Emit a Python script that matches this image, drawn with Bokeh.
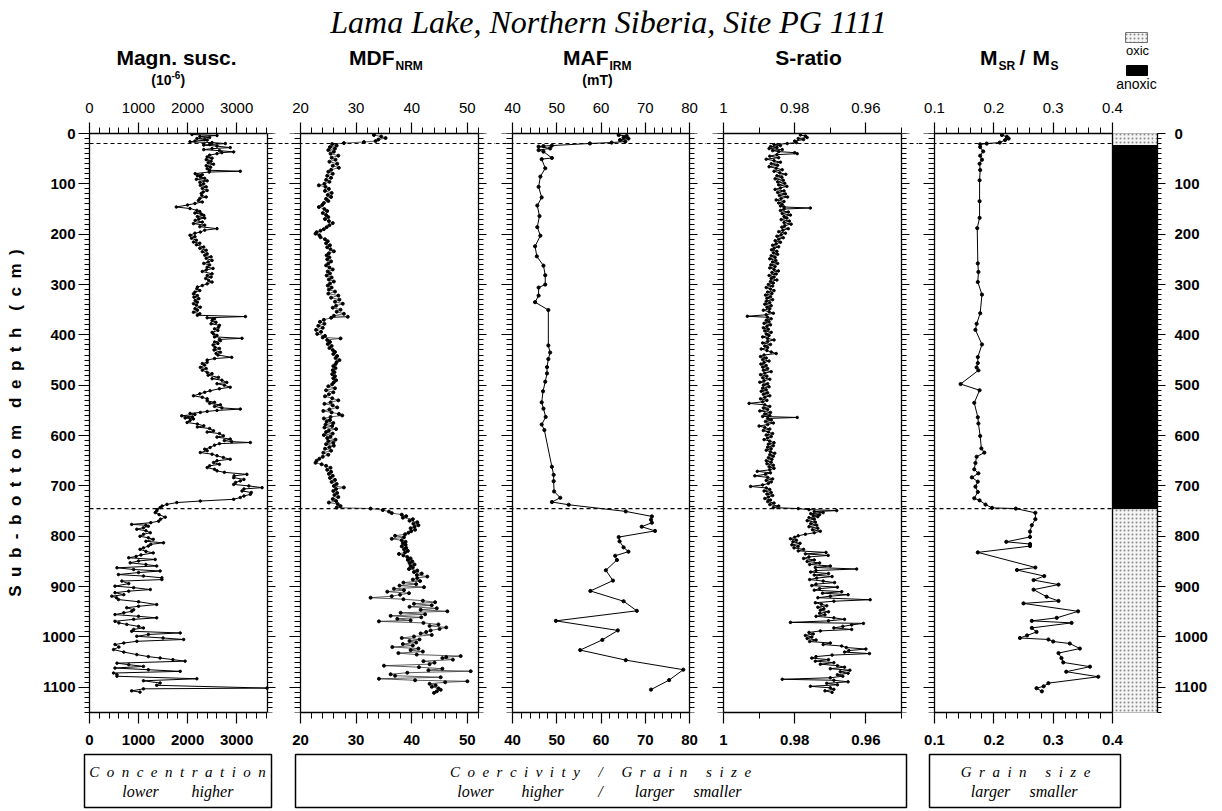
from bokeh.plotting import figure
from bokeh.models import Range1d, LinearAxis, FixedTicker, Span, NumeralTickFormatter
from bokeh.layouts import column, row
from bokeh.embed import file_html
from bokeh.resources import INLINE
from bokeh.core.properties import value

# ---------------- data ----------------
title_text = "Lama Lake, Northern Siberia, Site PG 1111"
depth_ticks = list(range(0, 1101, 100))
depth_minor = list(range(0, 1151, 10))
boundary_depths = [20, 745]
oxic_top = [0, 745]
oxic_bottom = [24, 1150]
anoxic_top = [24]
anoxic_bottom = [745]

susc_ticks = [0, 1000, 2000, 3000]
mdf_ticks = [20, 30, 40, 50]
maf_ticks = [40, 50, 60, 70, 80]
sratio_ticks = [1, 0.98, 0.96]
sratio_minor = [0.99, 0.97, 0.95]
msr_ticks = [0.1, 0.2, 0.3, 0.4]

# (depth cm, magnetic susceptibility 1e-6)
susc_points = [
    (2, 2090), (4, 2600), (6, 2250), (8, 2450), (10, 2190), (12, 2350), (13, 2400), (15, 2150), (16.6, 2050),
    (18, 2500), (20, 2770), (22, 2450), (23, 2330), (25, 2600), (28, 2870), (30, 2500), (32, 2330), (34, 2650),
    (36.5, 2940), (38, 2700), (40, 2600), (43, 2450), (46.5, 2400), (49, 2500), (52, 2380), (55, 2480), (58, 2420),
    (61, 2530), (64, 2380), (67, 2470), (70, 2400), (73, 2450), (75, 3075), (76.5, 2440), (79.7, 2155), (82, 2300),
    (84, 2200), (86, 2260), (89, 2350), (91, 2180), (94, 2400), (97, 2250), (100, 2330), (103, 2260), (106, 2380),
    (109, 2300), (113, 2400), (116, 2320), (119, 2280), (123, 2290), (126, 2380), (129, 2250), (133, 2220),
    (136, 2300), (139, 2150), (142, 2000), (146, 1770), (149, 2050), (152.7, 2190), (155, 2250), (158, 2150),
    (160, 2280), (162.6, 2330), (165, 2200), (168, 2350), (170, 2230), (172.6, 2155), (176, 2300), (179, 2120),
    (182, 2350), (185, 2250), (189, 2600), (192, 2350), (195.8, 2260), (198, 2150), (202, 2050), (205, 2150),
    (208, 2080), (212, 2180), (215.7, 2120), (218, 2250), (221, 2180), (225.6, 2330), (228, 2250), (232, 2380),
    (235, 2300), (239, 2400), (242, 2350), (245, 2480), (248, 2380), (252, 2500), (255, 2420), (258, 2330),
    (261, 2450), (265.5, 2400), (268, 2520), (271, 2380), (274, 2300), (278.7, 2500), (282, 2400), (285, 2480),
    (288, 2370), (292, 2430), (295, 2500), (298.6, 2400), (302, 2300), (305, 2200), (308.6, 2190), (312, 2250),
    (315, 2150), (318.5, 2120), (322, 2200), (325, 2130), (328, 2230), (331.8, 2155), (335, 2200), (338, 2120),
    (341, 2180), (345, 2260), (348, 2150), (351, 2200), (355, 2120), (358, 2250), (361, 2200), (363.6, 3180),
    (366, 2400), (368, 2550), (371.6, 2500), (375, 2580), (378, 2480), (381, 2650), (385, 2630), (388, 2550),
    (391, 2620), (395, 2500), (398, 2530), (401, 2600), (404, 2550), (406.8, 3110), (409, 2650), (411.4, 2670),
    (414, 2550), (417, 2620), (420, 2520), (424.7, 2560), (427, 2650), (430, 2540), (434.6, 2670), (437, 2580),
    (440, 2620), (444.6, 2900), (447, 2550), (450, 2400), (454.5, 2400), (457, 2300), (460, 2350), (464.5, 2260),
    (467, 2380), (470, 2300), (474.5, 2400), (477, 2500), (480, 2420), (484.4, 2630), (487, 2500), (490, 2700),
    (494.4, 2800), (497, 2600), (500, 2750), (504, 2870), (507, 2650), (511, 2460), (514, 2350), (517, 2250),
    (521, 2120), (524, 2300), (527, 2400), (531, 2400), (534, 2550), (536, 2450), (539, 2670), (542, 2550),
    (545, 2700), (547.4, 3075), (550, 2600), (552, 2400), (554, 2260), (556, 2050), (558, 2150), (560.7, 1880),
    (563, 2100), (565, 1950), (567, 2120), (570, 2050), (574, 1990), (577, 2200), (580.6, 2330), (583, 2200),
    (586, 2450), (590.5, 2530), (593, 2400), (596, 2650), (600.5, 2730), (603, 2600), (607, 2870), (610, 2750),
    (612, 2900), (613.8, 3280), (616, 2650), (619, 2550), (623.7, 2460), (627, 2350), (630, 2400), (633.7, 2260),
    (637, 2500), (640, 2600), (643.6, 2730), (647, 2870), (650, 2600), (653.6, 2530), (657, 2650), (660, 2450),
    (663.6, 2400), (667, 2550), (670, 2600), (673, 2750), (677, 3210), (680, 2950), (683.5, 2940), (687, 3150),
    (690, 3075), (693, 2980), (697, 2940), (700, 3250), (703.4, 3520), (706, 3150), (710, 3110), (713, 3300),
    (716.7, 3280), (720, 3150), (723, 3075), (726.6, 2940), (730, 2260), (733, 1780), (736.6, 1580), (740, 1480),
    (743, 1440), (747, 1380), (750, 1370), (753, 1340), (757, 1420), (762, 1545), (766, 1450), (770, 1410),
    (773, 1250), (776.4, 860), (778, 1150), (780, 1200), (783, 1100), (786, 965), (789, 1150), (793, 1240),
    (796, 1100), (800, 1030), (803, 1200), (806, 1300), (810, 1150), (813, 1510), (816, 1250), (819.5, 1200),
    (823, 1100), (826, 1030), (830, 1150), (833, 1300), (837, 1050), (840, 950), (842.7, 800), (846, 1340),
    (849, 1000), (852.7, 830), (856, 1150), (859, 1370), (862.6, 560), (866, 900), (869, 1440), (872, 1000),
    (876, 590), (879, 1100), (882.5, 1476), (886, 1476), (889, 660), (894, 800), (899, 520), (902, 900),
    (905.8, 1240), (909, 800), (912, 520), (916, 700), (919, 455), (922, 550), (925.7, 590), (930, 1000),
    (935.6, 1370), (939, 1000), (942, 760), (946, 900), (949, 860), (952, 700), (955.5, 520), (959, 1000),
    (962, 1370), (965, 900), (968.8, 520), (972, 600), (975, 760), (979, 1000), (982, 1100), (985, 900),
    (988.7, 860), (992, 1850), (995, 1200), (998.6, 965), (1002, 1500), (1005, 1920), (1008.6, 965), (1012, 700),
    (1015, 520), (1020, 600), (1025, 490), (1030, 700), (1035, 965), (1039, 1200), (1041.8, 1440), (1045, 1700),
    (1048, 1950), (1052, 560), (1055, 800), (1058.4, 1100), (1061.7, 520), (1065, 1200), (1068.3, 1850),
    (1071.6, 490), (1075, 560), (1078, 560), (1083, 2190), (1087, 1100), (1091.5, 1440), (1096, 1370),
    (1101.5, 3620), (1103, 1100), (1107, 860), (1109.5, 1030),
]

# (depth cm, MDF of NRM, mT)
mdf_points = [
    (3, 33.2), (6, 34.5), (9, 35.3), (12, 34.0), (15, 33.5), (17, 31.4), (19, 27.8), (21, 25.7), (24, 26.5),
    (27, 25.3), (30, 26.2), (33, 25.0), (36, 26.0), (40, 25.4), (44, 26.8), (48, 25.6), (52, 26.3), (56, 25.2),
    (60, 26.6), (64, 25.8), (68, 26.9), (72, 25.5), (76, 25.0), (80, 25.8), (84, 24.8), (88, 25.5), (92, 24.6),
    (96, 25.2), (100, 24.3), (103, 23.3), (106, 24.5), (110, 25.1), (114, 24.4), (118, 25.6), (122, 24.9),
    (126, 25.5), (130, 24.6), (134, 25.0), (138, 24.2), (142, 23.9), (146, 23.3), (150, 24.3), (154, 24.8),
    (158, 24.0), (162, 24.6), (166, 25.0), (170, 24.4), (174, 25.1), (178, 25.8), (182, 25.2), (186, 24.7),
    (190, 24.2), (193, 23.6), (196, 22.9), (199, 22.7), (202, 23.4), (206, 23.6), (210, 24.4), (214, 24.9),
    (218, 24.6), (222, 25.3), (226, 24.8), (230, 25.4), (234, 26.0), (238, 25.1), (242, 24.7), (246, 25.2),
    (250, 24.8), (254, 25.5), (258, 25.0), (262, 24.6), (266, 25.2), (270, 25.8), (274, 24.9), (278, 25.3),
    (282, 24.7), (286, 25.6), (290, 25.1), (294, 26.0), (298, 25.3), (302, 24.9), (306, 25.6), (310, 25.1),
    (314, 26.2), (318, 25.0), (322, 26.8), (326, 25.5), (330, 27.0), (334, 26.2), (338, 27.6), (342, 26.4),
    (346, 25.8), (350, 27.2), (354, 26.5), (358, 27.8), (362, 26.0), (364, 28.5), (366, 25.5), (370, 24.2),
    (374, 23.5), (378, 24.3), (382, 23.2), (386, 24.0), (390, 22.8), (394, 23.7), (398, 23.0), (402, 24.4),
    (405, 24.0), (407, 27.2), (410, 24.8), (414, 25.3), (418, 24.9), (422, 25.6), (426, 25.2), (430, 25.8),
    (434, 26.2), (438, 25.9), (442, 26.6), (446, 26.3), (450, 27.0), (454, 26.5), (458, 26.3), (462, 25.9),
    (466, 26.3), (470, 25.8), (474, 26.1), (478, 25.7), (482, 26.2), (486, 25.9), (490, 26.4), (494, 26.0),
    (498, 25.7), (502, 25.0), (506, 26.2), (510, 24.6), (514, 25.9), (518, 25.1), (522, 24.4), (526, 25.7),
    (530, 26.8), (534, 25.4), (537, 24.3), (540, 25.8), (544, 26.6), (548, 25.2), (551, 24.1), (554, 25.6),
    (557, 26.9), (560, 27.5), (563, 25.4), (566, 24.2), (569, 25.3), (572, 24.7), (575, 25.9), (578, 24.5),
    (581, 25.7), (584, 24.3), (587, 26.4), (590, 25.1), (593, 24.6), (596, 25.8), (599, 24.2), (602, 25.4),
    (605, 24.8), (608, 26.3), (611, 25.0), (614, 25.9), (617, 24.6), (620, 26.0), (623, 25.2), (626, 24.4),
    (630, 25.5), (634, 24.1), (638, 25.0), (642, 24.0), (646, 23.4), (650, 22.9), (654, 22.7), (657, 23.8),
    (660, 24.6), (664, 25.4), (668, 24.8), (672, 25.5), (676, 25.1), (680, 25.8), (684, 25.3), (688, 26.2),
    (692, 25.6), (696, 26.5), (700, 26.0), (703, 27.8), (706, 26.4), (710, 25.9), (714, 26.6), (718, 26.1),
    (722, 26.8), (726, 25.8), (730, 26.4), (733, 25.1), (736, 26.7), (740, 27.2), (743, 26.5), (745, 32.6),
    (748, 34.8), (751, 35.9), (754, 36.4), (757, 38.2), (760, 39.0), (763, 38.4), (766, 40.2), (769, 39.6),
    (772, 41.0), (775, 40.3), (778, 41.2), (781, 40.5), (784, 39.8), (787, 40.6), (790, 39.9), (793, 39.4),
    (796, 38.8), (799, 37.0), (802, 38.6), (805, 36.4), (808, 38.2), (811, 38.9), (814, 38.4), (817, 38.9),
    (820, 38.2), (823, 39.0), (826, 38.6), (829, 39.3), (832, 38.8), (835, 37.7), (838, 38.5), (841, 39.2),
    (844, 39.8), (847, 39.3), (850, 40.1), (853, 39.6), (856, 40.5), (859, 39.8), (862, 40.2), (865, 39.5),
    (868, 41.0), (871, 40.4), (874, 41.8), (877, 40.9), (880, 42.8), (883, 41.0), (886, 40.2), (889, 41.5),
    (892, 38.5), (895, 40.8), (898, 37.8), (901, 42.2), (904, 36.8), (907, 38.6), (910, 35.6), (913, 39.5),
    (916, 37.9), (919, 36.4), (922, 32.6), (925, 38.5), (928, 42.0), (931, 44.2), (934, 40.4), (937, 43.6),
    (940, 39.6), (943, 44.5), (946, 41.6), (949, 46.4), (952, 38.0), (955, 42.4), (958, 36.2), (961, 41.7),
    (964, 37.4), (967, 39.8), (969, 34.1), (972, 42.1), (975, 44.8), (978, 43.2), (981, 46.2), (984, 45.0),
    (987, 43.4), (990, 42.6), (993, 41.6), (996, 43.6), (999, 40.4), (1002, 38.2), (1005, 41.4), (1008, 39.6),
    (1011, 40.8), (1014, 38.4), (1017, 40.2), (1020, 36.5), (1023, 41.2), (1026, 39.8), (1029, 42.0),
    (1032, 37.6), (1035, 40.9), (1038, 48.8), (1040, 46.2), (1042, 45.5), (1045, 47.4), (1048, 42.1),
    (1051, 44.1), (1054, 43.2), (1057, 35.0), (1060, 41.3), (1063, 45.5), (1066, 43.0), (1068, 50.6),
    (1071, 39.2), (1074, 36.2), (1077, 37.0), (1080, 45.2), (1083, 34.1), (1086, 40.6), (1088, 50.0),
    (1090, 46.0), (1093, 43.2), (1096, 44.3), (1099, 43.6), (1102, 44.8), (1105, 45.2), (1108, 44.5), (1111, 44.0),
]

# (depth cm, MAF of IRM, mT)
maf_points = [
    (3, 64.0), (5, 65.8), (8, 65.1), (10, 66.2), (13, 64.3), (16, 65.5), (18, 62.4), (19.8, 57.5), (24, 48.9),
    (25, 47.0), (26, 45.9), (29.6, 48.5), (33, 45.9), (36, 47.0), (48.6, 48.9), (51, 46.6), (69, 47.4),
    (85.6, 46.3), (106, 45.9), (127, 46.6), (143, 45.6), (164, 46.1), (186, 45.6), (203, 46.3), (224, 45.1),
    (244, 45.5), (262.5, 47.0), (281.5, 47.4), (300, 47.4), (306, 45.9), (322, 45.9), (335, 45.1), (350.6, 48.1),
    (421, 48.1), (435, 48.5), (448, 48.1), (464, 47.8), (476.5, 47.8), (493, 47.4), (512, 46.9), (534, 46.6),
    (546.5, 47.0), (563, 47.5), (578, 46.6), (589, 47.2), (662, 48.9), (678, 49.3), (690.5, 49.3), (711, 49.4),
    (723.5, 50.8), (732, 48.9), (737.4, 52.7), (750.6, 65.6), (760.5, 71.5), (767, 71.3), (773, 71.5),
    (781, 69.2), (789.3, 72.2), (801.6, 64.0), (810, 64.2), (822, 65.1), (830.5, 66.2), (838.7, 63.2),
    (847, 63.6), (867.5, 61.1), (888, 62.7), (908.6, 57.6), (929, 65.1), (948, 68.1), (968, 49.8), (987, 63.8),
    (1005.8, 60.3), (1026, 55.3), (1046, 65.6), (1065, 78.6), (1085.6, 75.4), (1104.5, 71.3),
]

# (depth cm, S-ratio)
sratio_points = [
    (3, 0.9784), (5, 0.9770), (8, 0.9765), (10, 0.9790), (12, 0.9775), (15, 0.9800), (18, 0.9795), (20, 0.9821),
    (22, 0.9858), (24, 0.9840), (26, 0.9868), (28, 0.9850), (30, 0.9872), (32, 0.9835), (34, 0.9862),
    (36, 0.9845), (38, 0.9800), (40, 0.9793), (42, 0.9850), (45, 0.9870), (48, 0.9845), (51, 0.9880),
    (54, 0.9858), (57, 0.9840), (60, 0.9866), (63, 0.9848), (66, 0.9872), (69, 0.9852), (72, 0.9835),
    (75, 0.9858), (78, 0.9842), (81, 0.9825), (84, 0.9850), (87, 0.9836), (90, 0.9855), (93, 0.9832),
    (96, 0.9848), (99, 0.9828), (102, 0.9845), (105, 0.9822), (108, 0.9840), (111, 0.9855), (114, 0.9830),
    (117, 0.9848), (120, 0.9826), (123, 0.9843), (126, 0.9820), (129, 0.9838), (132, 0.9852), (135, 0.9830),
    (138, 0.9845), (141, 0.9835), (144, 0.9840), (146, 0.9830), (148, 0.9756), (150, 0.9830), (153, 0.9840),
    (156, 0.9818), (159, 0.9835), (162, 0.9812), (165, 0.9830), (168, 0.9822), (171, 0.9838), (174, 0.9815),
    (177, 0.9830), (180, 0.9810), (183, 0.9828), (186, 0.9836), (189, 0.9818), (192, 0.9833), (195, 0.9845),
    (198, 0.9826), (201, 0.9838), (204, 0.9850), (207, 0.9832), (210, 0.9845), (213, 0.9855), (216, 0.9840),
    (219, 0.9852), (222, 0.9862), (225, 0.9845), (228, 0.9858), (231, 0.9865), (234, 0.9850), (237, 0.9860),
    (240, 0.9848), (243, 0.9866), (246, 0.9855), (249, 0.9870), (252, 0.9853), (255, 0.9862), (258, 0.9848),
    (261, 0.9867), (264, 0.9855), (267, 0.9870), (270, 0.9858), (273, 0.9846), (276, 0.9864), (279, 0.9852),
    (282, 0.9872), (285, 0.9858), (288, 0.9866), (291, 0.9850), (294, 0.9868), (297, 0.9860), (300, 0.9874),
    (303, 0.9862), (306, 0.9880), (309, 0.9868), (312, 0.9858), (315, 0.9876), (318, 0.9864), (321, 0.9882),
    (324, 0.9868), (327, 0.9878), (330, 0.9862), (333, 0.9880), (336, 0.9870), (339, 0.9884), (342, 0.9866),
    (345, 0.9878), (348, 0.9870), (351, 0.9888), (354, 0.9872), (357, 0.9860), (360, 0.9880), (363, 0.9933),
    (365, 0.9876), (368, 0.9866), (371, 0.9880), (374, 0.9872), (377, 0.9886), (380, 0.9868), (383, 0.9878),
    (386, 0.9888), (389, 0.9874), (392, 0.9884), (395, 0.9866), (398, 0.9880), (401, 0.9872), (404, 0.9890),
    (407, 0.9876), (410, 0.9858), (413, 0.9876), (416, 0.9890), (419, 0.9868), (422, 0.9884), (425, 0.9876),
    (428, 0.9894), (431, 0.9878), (434, 0.9866), (437, 0.9852), (440, 0.9886), (443, 0.9896), (446, 0.9880),
    (449, 0.9890), (452, 0.9872), (455, 0.9886), (458, 0.9895), (461, 0.9880), (464, 0.9890), (467, 0.9876),
    (470, 0.9888), (473, 0.9866), (476, 0.9884), (479, 0.9896), (482, 0.9878), (485, 0.9890), (488, 0.9870),
    (491, 0.9886), (494, 0.9898), (497, 0.9876), (500, 0.9888), (503, 0.9872), (506, 0.9890), (509, 0.9880),
    (512, 0.9894), (515, 0.9876), (518, 0.9888), (521, 0.9870), (524, 0.9884), (527, 0.9896), (530, 0.9878),
    (533, 0.9890), (536, 0.9928), (539, 0.9884), (542, 0.9870), (545, 0.9888), (548, 0.9876), (551, 0.9898),
    (554, 0.9868), (557, 0.9884), (560, 0.9870), (562, 0.9890), (564, 0.9793), (566, 0.9876), (569, 0.9866),
    (572, 0.9882), (575, 0.9860), (578, 0.9876), (581, 0.9900), (584, 0.9884), (587, 0.9870), (590, 0.9888),
    (593, 0.9874), (596, 0.9862), (599, 0.9880), (602, 0.9866), (605, 0.9876), (608, 0.9886), (611, 0.9870),
    (614, 0.9858), (617, 0.9874), (620, 0.9860), (623, 0.9876), (626, 0.9866), (629, 0.9880), (632, 0.9868),
    (635, 0.9856), (638, 0.9870), (641, 0.9860), (644, 0.9874), (647, 0.9864), (650, 0.9880), (653, 0.9866),
    (656, 0.9878), (659, 0.9860), (662, 0.9872), (665, 0.9858), (668, 0.9870), (671, 0.9905), (674, 0.9868),
    (677, 0.9882), (680, 0.9912), (683, 0.9876), (686, 0.9862), (689, 0.9880), (692, 0.9866), (695, 0.9874),
    (698, 0.9890), (701, 0.9924), (704, 0.9880), (707, 0.9870), (710, 0.9886), (713, 0.9866), (716, 0.9878),
    (719, 0.9862), (722, 0.9874), (725, 0.9884), (728, 0.9868), (731, 0.9876), (734, 0.9858), (737, 0.9870),
    (740, 0.9845), (743, 0.9860), (745, 0.9790), (747, 0.9760), (749, 0.9682), (751, 0.9745), (753, 0.9720),
    (755, 0.9755), (757, 0.9730), (759, 0.9748), (761, 0.9735), (763, 0.9760), (766, 0.9745), (769, 0.9765),
    (772, 0.9742), (775, 0.9755), (778, 0.9738), (781, 0.9760), (784, 0.9735), (787, 0.9750), (790, 0.9728),
    (793, 0.9745), (796, 0.9770), (799, 0.9790), (802, 0.9800), (805, 0.9812), (808, 0.9795), (811, 0.9805),
    (814, 0.9785), (817, 0.9808), (820, 0.9790), (823, 0.9802), (826, 0.9775), (829, 0.9790), (832, 0.9712),
    (835, 0.9770), (838, 0.9706), (841, 0.9760), (844, 0.9775), (847, 0.9745), (850, 0.9765), (853, 0.9730),
    (856, 0.9758), (859, 0.9700), (862, 0.9742), (865, 0.9626), (868, 0.9740), (871, 0.9755), (874, 0.9705),
    (877, 0.9745), (880, 0.9695), (883, 0.9738), (886, 0.9758), (889, 0.9720), (892, 0.9688), (895, 0.9740),
    (898, 0.9752), (901, 0.9680), (904, 0.9730), (907, 0.9745), (910, 0.9668), (913, 0.9722), (916, 0.9650),
    (919, 0.9700), (922, 0.9735), (926, 0.9588), (929, 0.9690), (932, 0.9742), (935, 0.9725), (938, 0.9710),
    (941, 0.9735), (944, 0.9718), (947, 0.9728), (950, 0.9705), (953, 0.9730), (956, 0.9715), (959, 0.9740),
    (962, 0.9690), (965, 0.9660), (968, 0.9705), (971, 0.9812), (973, 0.9607), (976, 0.9640), (979, 0.9665),
    (982, 0.9690), (985, 0.9640), (988, 0.9728), (991, 0.9760), (994, 0.9748), (997, 0.9770), (1000, 0.9752),
    (1003, 0.9765), (1006, 0.9740), (1009, 0.9758), (1012, 0.9700), (1015, 0.9720), (1018, 0.9668),
    (1021, 0.9655), (1024, 0.9600), (1027, 0.9648), (1030, 0.9660), (1033, 0.9590), (1036, 0.9695),
    (1039, 0.9740), (1042, 0.9752), (1045, 0.9705), (1048, 0.9742), (1051, 0.9690), (1054, 0.9728),
    (1057, 0.9680), (1060, 0.9660), (1063, 0.9700), (1066, 0.9645), (1069, 0.9672), (1072, 0.9650),
    (1075, 0.9680), (1078, 0.9665), (1081, 0.9700), (1084, 0.9835), (1086, 0.9690), (1089, 0.9650),
    (1092, 0.9710), (1095, 0.9680), (1098, 0.9756), (1101, 0.9700), (1104, 0.9690), (1107, 0.9715), (1110, 0.9695),
]

# (depth cm, Msr/Ms)
msr_points = [
    (3, 0.2136), (6.6, 0.222), (10, 0.225), (13, 0.219), (18, 0.210), (20, 0.188), (21.5, 0.177), (27, 0.177),
    (35.5, 0.182), (44, 0.177), (52, 0.180), (60, 0.176), (72.6, 0.177), (93, 0.176), (134.5, 0.176),
    (167.5, 0.176), (188, 0.172), (258, 0.173), (275, 0.174), (295, 0.173), (320, 0.180), (357, 0.177),
    (378, 0.171), (390, 0.169), (419, 0.180), (444, 0.173), (456, 0.173), (464.6, 0.171), (470.4, 0.174),
    (497.6, 0.144), (510, 0.176), (535, 0.167), (563.6, 0.173), (576, 0.174), (600.8, 0.177), (625.5, 0.179),
    (633.8, 0.184), (642, 0.171), (654.4, 0.169), (667, 0.167), (675, 0.174), (683, 0.163), (691.5, 0.173),
    (701.4, 0.169), (712, 0.173), (724.5, 0.167), (728.7, 0.176), (737, 0.186), (743.5, 0.197), (745, 0.237),
    (753.4, 0.270), (766, 0.270), (778, 0.264), (790.6, 0.261), (801.3, 0.261), (811, 0.221), (815.4, 0.261),
    (819.5, 0.261), (832, 0.173), (862, 0.270), (867, 0.239), (879, 0.285), (887, 0.267), (896, 0.309),
    (906, 0.267), (920, 0.289), (928.4, 0.309), (933.3, 0.250), (949, 0.342), (962, 0.306), (968, 0.264),
    (972, 0.331), (982, 0.264), (990, 0.272), (997, 0.256), (1002, 0.244), (1005, 0.292), (1009, 0.300),
    (1013, 0.328), (1023, 0.345), (1032, 0.309), (1042, 0.314), (1050.5, 0.317), (1059, 0.362), (1069, 0.322),
    (1079, 0.376), (1091.7, 0.292), (1098, 0.284), (1101.7, 0.272), (1108, 0.281),
]

# ---------------- layout constants ----------------
SANS = "Liberation Sans"
SERIF = "Liberation Serif"
HEADER_H, FOOTER_H = 92, 59
TOP_H, FRAME_H, BOT_H = 41, 579, 40
PANEL_H = TOP_H + FRAME_H + BOT_H
DEPTH_MAX = 1150
EN = "\u2002"
BASE_SHIFT = 0.4   # measured offset of Bokeh's alphabetic baseline, in em


def spaced(s):
    return EN.join(s)


def ext_range(lo, hi, p0, p1, f0, f1):
    s = (hi - lo) / (p1 - p0)
    return Range1d(lo - (p0 - f0) * s, hi + (f1 - p1) * s)


def make_panel(width, xr, bl, br):
    p = figure(width=width, height=PANEL_H, x_range=xr, y_range=Range1d(DEPTH_MAX, 0),
               toolbar_location=None, output_backend="svg",
               x_axis_location=None, y_axis_location=None,
               min_border_left=bl, min_border_right=br, min_border_top=TOP_H, min_border_bottom=BOT_H)
    p.outline_line_color = None
    p.xgrid.grid_line_color = None
    p.ygrid.grid_line_color = None
    p.background_fill_color = "white"
    p.border_fill_color = "white"
    return p


def style_axis(ax, tick_out, minor_out, labels=True, size="15px", bold=False, standoff=5):
    ax.major_tick_out = tick_out
    ax.major_tick_in = 0
    ax.minor_tick_out = minor_out
    ax.minor_tick_in = 0
    ax.axis_line_color = "black"
    ax.axis_line_width = 1.3
    ax.major_tick_line_width = 1.2
    ax.minor_tick_line_width = 1
    ax.major_tick_line_color = "black"
    ax.minor_tick_line_color = "black"
    ax.major_label_text_font = SANS
    ax.major_label_text_font_size = size
    ax.major_label_text_font_style = "bold" if bold else "normal"
    ax.major_label_standoff = standoff
    ax.major_label_text_color = "black" if labels else None


def add_x_axes(p, lo, hi, major, minor, formatter=None):
    for loc in ("above", "below"):
        ax = LinearAxis(bounds=(min(lo, hi), max(lo, hi)),
                        ticker=FixedTicker(ticks=major, minor_ticks=minor))
        if formatter is not None:
            ax.formatter = formatter
        if loc == "above":
            style_axis(ax, 11, 6, bold=False, standoff=10)
        else:
            style_axis(ax, 11, 6, bold=True, standoff=11)
        p.add_layout(ax, loc)


def add_fixed_y(p, loc, side, tick_out, minor_out):
    ax = LinearAxis(ticker=FixedTicker(ticks=depth_ticks, minor_ticks=depth_minor), fixed_location=loc)
    style_axis(ax, tick_out, minor_out, labels=False)
    p.add_layout(ax, side)


def add_series(p, pts, size=3, lw=1.0, color="black"):
    d = [a for a, b in pts]
    v = [b for a, b in pts]
    p.line(v, d, line_color=color, line_width=lw)
    p.scatter(v, d, size=size, marker="circle", fill_color="black", line_color="black")


def add_dashes(p, x0=None, x1=None):
    for d in boundary_depths:
        if x0 is None:
            p.add_layout(Span(location=d, dimension="width", line_color="black", line_width=1.1, line_dash="4 3"))
        else:
            p.segment(x0=[x0], x1=[x1], y0=[d], y1=[d], line_color="black", line_width=1.1, line_dash="4 3")


def minor_range(lo, hi, step, nd):
    n = int(round((hi - lo) / step))
    return [round(lo + i * step, nd) for i in range(n + 1)]


# panel pixel frames and figure slices
P = [(89, 267), (300, 478), (512, 689), (723, 901), (934, 1112)]
E = [0, 284, 495, 706, 918, 1222]
BAR_R = 1157

# ---- panel 1: magnetic susceptibility ----
x1 = ext_range(0, 3630, P[0][0], P[0][1], P[0][0], E[1])
p1 = make_panel(E[1] - E[0], x1, P[0][0], 0)
add_dashes(p1)
add_series(p1, susc_points, size=2.5, lw=1.0)
add_x_axes(p1, 0, 3630, susc_ticks, minor_range(0, 3600, 200, 0))
yl = LinearAxis(ticker=FixedTicker(ticks=depth_ticks, minor_ticks=depth_minor))
style_axis(yl, 11, 5, labels=True, bold=True, standoff=3)
yl.axis_label = spaced("Sub-bottom") + EN + EN + spaced("depth") + EN + EN + spaced("(cm)")
yl.axis_label_text_font = SANS
yl.axis_label_text_font_style = "bold"
yl.axis_label_text_font_size = "17px"
yl.axis_label_text_color = "black"
yl.axis_label_standoff = 14
p1.add_layout(yl, "left")
add_fixed_y(p1, 3630, "right", 8, 5)

# ---- panel 2: MDF NRM ----
x2 = ext_range(20, 52, P[1][0], P[1][1], E[1], E[2])
p2 = make_panel(E[2] - E[1], x2, 0, 0)
add_dashes(p2)
add_series(p2, mdf_points, size=3.0, lw=0.8, color="#333333")
add_x_axes(p2, 20, 52, mdf_ticks, minor_range(20, 52, 2, 0))
add_fixed_y(p2, 20, "left", 11, 6)
add_fixed_y(p2, 52, "right", 8, 5)

# ---- panel 3: MAF IRM ----
x3 = ext_range(40, 80, P[2][0], P[2][1], E[2], E[3])
p3 = make_panel(E[3] - E[2], x3, 0, 0)
add_dashes(p3)
add_series(p3, maf_points, size=3.2, lw=1.0)
add_x_axes(p3, 40, 80, maf_ticks, minor_range(40, 80, 2, 0))
add_fixed_y(p3, 40, "left", 11, 6)
add_fixed_y(p3, 80, "right", 8, 5)

# ---- panel 4: S-ratio (reversed) ----
x4 = ext_range(1.0, 0.95, P[3][0], P[3][1], E[3], E[4])
p4 = make_panel(E[4] - E[3], x4, 0, 0)
add_dashes(p4)
add_series(p4, sratio_points, size=2.5, lw=1.0)
add_x_axes(p4, 1.0, 0.95, sratio_ticks, sratio_minor, formatter=NumeralTickFormatter(format="0.[00]"))
add_fixed_y(p4, 1.0, "left", 11, 6)
add_fixed_y(p4, 0.95, "right", 8, 5)

# ---- panel 5: Msr/Ms + oxic/anoxic bar ----
x5 = ext_range(0.1, 0.4, P[4][0], P[4][1], E[4], BAR_R)
p5 = make_panel(E[5] - E[4], x5, 0, E[5] - BAR_R)
add_dashes(p5, x5.start, 0.4)
add_series(p5, msr_points, size=3.2, lw=1.0)
add_x_axes(p5, 0.1, 0.4, msr_ticks, minor_range(0.1, 0.4, 0.02, 2))
add_fixed_y(p5, 0.1, "left", 11, 6)
p5.quad(left=[0.4] * len(oxic_top), right=[x5.end] * len(oxic_top), top=oxic_top, bottom=oxic_bottom,
        fill_color="#f4f4f4", hatch_pattern=".", hatch_color="#8a8a8a", hatch_scale=4, hatch_weight=0.8,
        line_color="#555555", line_width=0.8)
p5.quad(left=[0.4] * len(anoxic_top), right=[x5.end] * len(anoxic_top), top=anoxic_top, bottom=anoxic_bottom,
        fill_color="black", line_color="black")
yr = LinearAxis(ticker=FixedTicker(ticks=depth_ticks, minor_ticks=depth_minor))
style_axis(yr, 8, 4, labels=True, bold=True, standoff=9)
p5.add_layout(yr, "right")
add_fixed_y(p5, 0.4, "right", 0, 0)

# ---------------- header ----------------
hdr = figure(width=1222, height=HEADER_H, x_range=Range1d(0, 1222), y_range=Range1d(HEADER_H, 0),
             toolbar_location=None, output_backend="svg", x_axis_location=None, y_axis_location=None,
             min_border=0)
hdr.outline_line_color = None
hdr.xgrid.grid_line_color = None
hdr.ygrid.grid_line_color = None


def htext(x, y, t, size, align="center", style="bold", font=SANS):
    yy = y - BASE_SHIFT * size
    hdr.text(x=[x], y=[yy], text=[t], text_font=value(font), text_font_style=style, text_font_size=f"{size}px",
             text_align=align, text_baseline="alphabetic", text_color="black")


htext(608, 34, title_text, 32, style="italic", font=SERIF)
htext(176, 65, "Magn. susc.", 21)
htext(171, 85, "(10", 14, align="right")
htext(171, 78, "-6", 10, align="left")
htext(180, 85, ")", 14, align="left")
htext(394, 65, "MDF", 21, align="right")
htext(395, 70, "NRM", 12, align="left")
htext(608, 65, "MAF", 21, align="right")
htext(609, 70, "IRM", 12, align="left")
htext(597, 85, "(mT)", 14)
htext(808, 65, "S-ratio", 21)
htext(997, 65, "M", 21, align="right")
htext(998, 70, "SR", 12, align="left")
htext(1022, 65, "/", 21)
htext(1032, 65, "M", 21, align="left")
htext(1050, 70, "S", 12, align="left")
# oxic / anoxic key
hdr.quad(left=[1125], right=[1147], top=[32], bottom=[42], fill_color="#f4f4f4", hatch_pattern=".",
         hatch_color="#8a8a8a", hatch_scale=4, hatch_weight=0.8, line_color="#555555", line_width=0.8)
htext(1137, 55, "oxic", 13, style="normal")
hdr.quad(left=[1126], right=[1147], top=[65], bottom=[75], fill_color="black", line_color="black")
htext(1136, 89, "anoxic", 14, style="normal")

# ---------------- footer ----------------
ftr = figure(width=1222, height=FOOTER_H, x_range=Range1d(0, 1222), y_range=Range1d(811, 811 - FOOTER_H),
             toolbar_location=None, output_backend="svg", x_axis_location=None, y_axis_location=None,
             min_border=0)
ftr.outline_line_color = None
ftr.xgrid.grid_line_color = None
ftr.ygrid.grid_line_color = None
ftr.quad(left=[84, 295, 929], right=[271, 906, 1120], top=[754, 754, 754], bottom=[807, 807, 807],
         fill_color=None, line_color="black", line_width=1.5)


def ftext(x, y, t, size=15):
    ftr.text(x=[x], y=[y - BASE_SHIFT * size], text=[t], text_font=value(SERIF), text_font_style="italic",
             text_font_size=f"{size}px", text_align="center", text_baseline="alphabetic", text_color="black")


ftext(177, 777, spaced("Concentration"))
ftext(600, 777, spaced("Coercivity / Grain size"))
ftext(1025, 777, spaced("Grain size"))
for x, t in [(140, "lower"), (212, "higher"), (475, "lower"), (542, "higher"), (600, "/"),
             (654, "larger"), (717, "smaller"), (990, "larger"), (1053, "smaller")]:
    ftext(x, 797, t, 16)

layout = column(hdr, row(p1, p2, p3, p4, p5, spacing=0), ftr, spacing=0)
open("out.html", "w").write(file_html(layout, INLINE, title="Lama Lake PG 1111"))
